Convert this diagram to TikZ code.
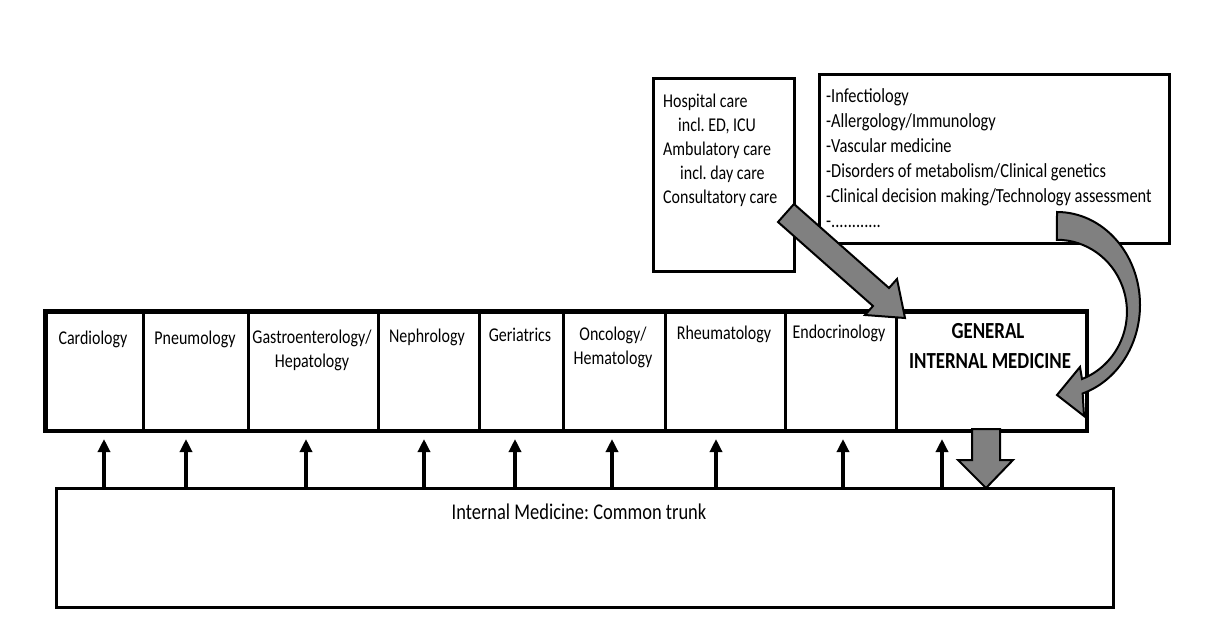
\documentclass[tikz,border=0pt]{standalone}
\usepackage{fontspec}
\setmainfont{Carlito}[FakeStretch=0.82]
\usetikzlibrary{arrows.meta}
\frenchspacing
\begin{document}
\begin{tikzpicture}[x=1pt,y=-1pt,line join=miter,
  cell/.style={draw=black,line width=2.6pt,minimum height=118pt,anchor=north west,inner sep=0pt},
  boxsty/.style={draw=black,line width=2.6pt,anchor=north west,inner sep=0pt,fill=white},
  lab/.style={anchor=base,inner sep=0pt,font=\fontsize{19.5}{23}\selectfont},
  llab/.style={anchor=base west,inner sep=0pt,font=\fontsize{19.5}{23}\selectfont},
  rlab/.style={anchor=base west,inner sep=0pt,font=\fontsize{20}{24}\selectfont},
  glab/.style={anchor=base,inner sep=0pt,font=\fontsize{23}{27}\selectfont\bfseries},
  tlab/.style={anchor=base,inner sep=0pt,font=\fontsize{22.5}{27}\selectfont},
  uparrow/.style={line width=3.4pt,-{Triangle[width=12pt,length=13pt]}},
  bigarrow/.style={draw=black,line width=2pt,fill=black!50}]
\useasboundingbox (0,0) rectangle (1213,625);

% top boxes
\node[boxsty,minimum width=141pt,minimum height=193pt] (hosp) at (652,77) {};
\node[llab] (h1) at (663,107) {Hospital care};
\node[llab] (h2) at (678,131) {incl. ED, ICU};
\node[llab] (h3) at (663,155) {Ambulatory care};
\node[llab] (h4) at (680,179) {incl. day care};
\node[llab] (h5) at (663,203) {Consultatory care};

\node[boxsty,minimum width=350pt,minimum height=169pt] (spec) at (818,73) {};
\node[rlab] (s1) at (826,102) {-Infectiology};
\node[rlab] (s2) at (826,127) {-Allergology/Immunology};
\node[rlab] (s3) at (826,152) {-Vascular medicine};
\node[rlab] (s4) at (826,177) {-Disorders of metabolism/Clinical genetics};
\node[rlab] (s5) at (826,202) {-Clinical decision making/Technology assessment};
\node[rlab] (s6) at (826,227) {-............};

% row of specialties
\node[cell,minimum width=97pt]  (card) at (45,311) {};
\node[cell,minimum width=105pt] (pneu) at (142,311) {};
\node[cell,minimum width=130pt] (gast) at (247,311) {};
\node[cell,minimum width=101pt] (neph) at (377,311) {};
\node[cell,minimum width=84pt]  (geri) at (478,311) {};
\node[cell,minimum width=102pt] (onco) at (562,311) {};
\node[cell,minimum width=120pt] (rheu) at (664,311) {};
\node[cell,minimum width=111pt] (endo) at (784,311) {};
\node[cell,minimum width=190pt] (gim)  at (895,311) {};
\draw[line width=3.4pt] (card.north west) rectangle (gim.south east);

\node[lab] (tcard) at (93,344) {Cardiology};
\node[lab] (tpneu) at (195,344) {Pneumology};
\node[lab] (tgast1) at (312,343) {Gastroenterology/};
\node[lab] (tgast2) at (312,367) {Hepatology};
\node[lab] (tneph) at (427,342) {Nephrology};
\node[lab] (tgeri) at (520,341) {Geriatrics};
\node[lab] (tonco1) at (613,340) {Oncology/};
\node[lab] (tonco2) at (613,364) {Hematology};
\node[lab] (trheu) at (724,339) {Rheumatology};
\node[lab] (tendo) at (839,338) {Endocrinology};
\node[glab] (tgim1) at (988,338) {GENERAL};
\node[glab] (tgim2) at (990,368) {INTERNAL MEDICINE};

% common trunk
\node[boxsty,line width=3pt,minimum width=1057pt,minimum height=119pt] (trunk) at (55,487) {};
\node[tlab] (ttrunk) at (579,519) {Internal Medicine: Common trunk};

% up arrows
\foreach \i/\x in {1/104,2/186,3/306,4/424,5/515,6/612,7/716,8/843,9/942}{
  \coordinate (u\i) at (\x,439);
  \draw[uparrow] (u\i |- trunk.north) -- (u\i);
}

% gray arrows
\draw[bigarrow] (794,204) -- (889,288) -- (897,279) -- (905,318) -- (865,315) -- (873,306) -- (778,222) -- cycle;

\draw[bigarrow] (1057,212) arc[start angle=-90,end angle=72,x radius=83,y radius=93]
  -- (1084,416) -- (1057,395) -- (1080,367) -- (1082,379)
  arc[start angle=69,end angle=-90,x radius=70,y radius=72] -- cycle;

\draw[bigarrow] (972,429) -- (1000,429) -- (1000,460) -- (1013,460) -- (986,488) -- (958,460) -- (972,460) -- cycle;
\end{tikzpicture}
\end{document}
